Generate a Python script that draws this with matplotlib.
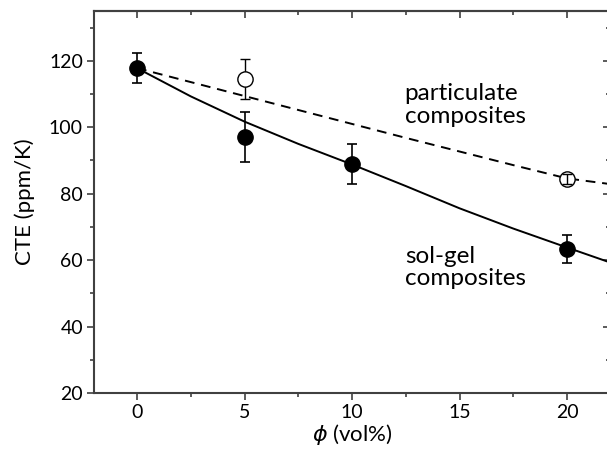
import matplotlib.pyplot as plt
from matplotlib.ticker import MultipleLocator

plt.rcParams['font.family'] = ['Lato', 'DejaVu Sans']
plt.rcParams['mathtext.fontset'] = 'dejavusans'

# sol-gel composites (filled)
solgel_phi = [0, 5, 10, 20]
solgel_cte = [117.8, 97.0, 89.0, 63.4]
solgel_err = [4.5, 7.5, 6.0, 4.3]

# particulate composites (open)
part_phi = [5, 20]
part_cte = [114.5, 84.3]
part_err = [6.0, 1.5]

# model curves
curve_phi = [0, 2.5, 5, 7.5, 10, 12.5, 15, 17.5, 20, 22]
solgel_fit = [117.8, 109.3, 101.7, 95.0, 88.8, 82.3, 75.6, 69.5, 63.8, 59.3]
part_fit = [117.8, 113.6, 109.4, 105.2, 101.0, 96.8, 92.7, 88.6, 84.6, 82.9]

fig = plt.figure(figsize=(6.07, 4.53), dpi=100)
ax = fig.add_axes([0.1549, 0.1325, 0.8501, 0.8432])

ax.plot(curve_phi, solgel_fit, color='black', lw=1.4, zorder=2)
ax.plot(curve_phi, part_fit, color='black', lw=1.4, ls=(0, (5, 3.5)), zorder=2)

ax.errorbar(solgel_phi, solgel_cte, yerr=solgel_err, fmt='o', color='black',
            ms=11, capsize=3.5, elinewidth=1.2, capthick=1.2, zorder=3)

# open points: small error bars show through the marker
for x, y, e in zip(part_phi, part_cte, part_err):
    ax.plot(x, y, 'o', ms=11, mfc='white', mec='black', mew=1.0, zorder=4)
    ax.errorbar(x, y, yerr=e, fmt='none', ecolor='black', capsize=3.5,
                elinewidth=1.0, capthick=1.0, zorder=5 if e < 3 else 3)

ax.text(12.45, 106.8, 'particulate\ncomposites', fontsize=17.5, va='center',
        linespacing=1.1)
ax.text(12.45, 57.8, 'sol-gel\ncomposites', fontsize=17.5, va='center',
        linespacing=1.1)

ax.set_xlim(-2, 22)
ax.set_ylim(20, 135)
ax.xaxis.set_major_locator(MultipleLocator(5))
ax.xaxis.set_minor_locator(MultipleLocator(2.5))
ax.yaxis.set_major_locator(MultipleLocator(20))
ax.yaxis.set_minor_locator(MultipleLocator(10))

ax.tick_params(which='both', direction='out', top=False, right=False,
               color='#404040', width=1.2, labelsize=14, pad=3)
ax.tick_params(which='major', length=5)
ax.tick_params(which='minor', length=3)
# inward ticks on top and right
ax2 = ax.secondary_xaxis('top')
ax2.xaxis.set_major_locator(MultipleLocator(5))
ax2.xaxis.set_minor_locator(MultipleLocator(2.5))
ax2.tick_params(which='both', direction='in', labeltop=False, color='#404040', width=1.2)
ax2.tick_params(which='major', length=5)
ax2.tick_params(which='minor', length=3)
ax3 = ax.secondary_yaxis('right')
ax3.yaxis.set_major_locator(MultipleLocator(20))
ax3.yaxis.set_minor_locator(MultipleLocator(10))
ax3.tick_params(which='both', direction='in', labelright=False, color='#404040', width=1.2)
ax3.tick_params(which='major', length=5)
ax3.tick_params(which='minor', length=3)
for a in (ax, ax2, ax3):
    for s in a.spines.values():
        s.set_color('#404040')
        s.set_linewidth(1.5)

ax.set_ylabel('CTE (ppm/K)', fontsize=16, labelpad=10)
ax.set_xlabel(r'$\phi$ (vol%)', fontsize=16, labelpad=1)

fig.savefig('out.png', dpi=100)
